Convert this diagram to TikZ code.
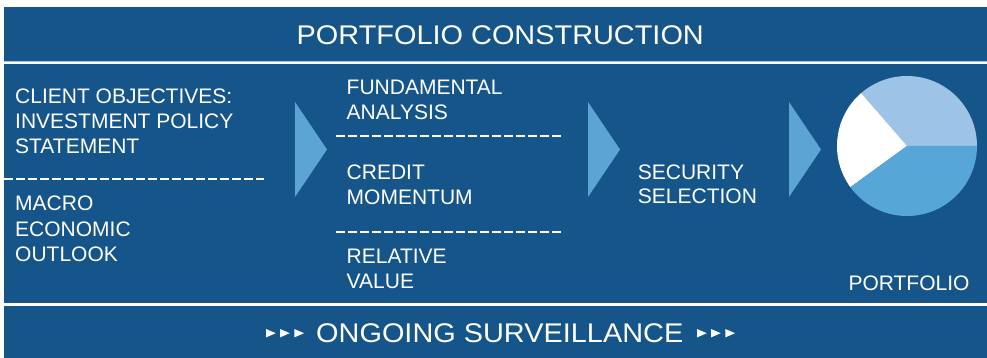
\documentclass[tikz,border=0pt]{standalone}
\usepackage{fontspec}
\setmainfont{Liberation Sans}
\newfontfamily\widefont[FakeStretch=1.07]{Liberation Sans}
\definecolor{navy}{HTML}{155589}
\definecolor{arrowblue}{HTML}{5BA4D4}
\definecolor{pielight}{HTML}{9DC3E6}
\definecolor{piemid}{HTML}{56A6D8}
\begin{document}
\begin{tikzpicture}[x=1pt,y=-1pt,
  lbl/.style={anchor=base west, inner sep=0pt, text=white, font=\fontsize{21}{25}\selectfont},
  banner/.style={anchor=base west, inner sep=0pt, text=white, font=\widefont\fontsize{27}{32}\selectfont},
  sepline/.style={white, line width=2pt, dash pattern=on 9pt off 3pt},
  chevron/.style={fill=arrowblue},
  tri/.style={fill=white}]
\useasboundingbox (0,0) rectangle (987,358);
\fill[white] (0,0) rectangle (987,358);
% panels
\fill[navy] (4,7) rectangle (987,61);
\fill[pielight] (4,61) rectangle (987,62.5);
\fill[navy] (4,64) rectangle (987,302.7);
\fill[navy] (4,306) rectangle (987,358);
% title
\node[banner] (title) at (296.5,44.3) {PORTFOLIO CONSTRUCTION};
% left column
\node[lbl] (c1) at (15,104) {CLIENT OBJECTIVES:};
\node[lbl] (c2) at (15,129) {INVESTMENT POLICY};
\node[lbl] (c3) at (15,154) {STATEMENT};
\coordinate (d1a) at (4,179);
\coordinate (d1b) at (264,179);
\draw[sepline] (d1a) -- (d1b);
\node[lbl] (m1) at (15,211) {MACRO};
\node[lbl] (m2) at (15,236) {ECONOMIC};
\node[lbl] (m3) at (15,261) {OUTLOOK};
% middle column
\node[lbl] (f1) at (346.5,94.3) {FUNDAMENTAL};
\node[lbl] (f2) at (346.5,119.3) {ANALYSIS};
\coordinate (d2a) at (336,136);
\coordinate (d2b) at (562,136);
\draw[sepline] (d2a) -- (d2b);
\node[lbl] (k1) at (346.5,179.3) {CREDIT};
\node[lbl] (k2) at (346.5,204.3) {MOMENTUM};
\coordinate (d3a) at (336,231.7);
\coordinate (d3b) at (562,231.7);
\draw[sepline] (d3a) -- (d3b);
\node[lbl] (r1) at (346.5,263.3) {RELATIVE};
\node[lbl] (r2) at (346.5,288.3) {VALUE};
% security selection
\node[lbl] (s1) at (637.7,179) {SECURITY};
\node[lbl] (s2) at (637.7,204) {SELECTION};
% chevrons
\fill[chevron] (295,102) -- (327,149.5) -- (295,197) -- cycle;
\fill[chevron] (588,102) -- (620,149.5) -- (588,197) -- cycle;
\fill[chevron] (789,102) -- (821,149.5) -- (789,197) -- cycle;
% pie (y axis points down, so angles are negated)
\coordinate (pc) at (907,146);
\fill[pielight] (pc) -- ++(0:70) arc[start angle=0, end angle=-131, radius=70] -- cycle;
\fill[white] (pc) -- ++(-131:70) arc[start angle=-131, end angle=-216, radius=70] -- cycle;
\fill[piemid] (pc) -- ++(-216:70) arc[start angle=-216, end angle=-360, radius=70] -- cycle;
\node[lbl] (pf) at (848.3,290) {PORTFOLIO};
% bottom banner
\node[banner] (ongo) at (316,342.7) {ONGOING SURVEILLANCE};
\foreach \x in {266,280,294.3,697,711,725.3}{
  \fill[tri] (\x,329) -- (\x+9.7,333.2) -- (\x,337.4) -- cycle;
}
\end{tikzpicture}
\end{document}
